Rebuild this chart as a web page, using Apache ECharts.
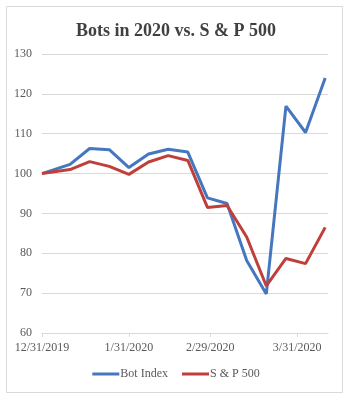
<!DOCTYPE html>
<html>
<head>
<meta charset="utf-8">
<script src="https://cdn.jsdelivr.net/npm/echarts@6/dist/echarts.min.js"></script>
<style>
  html, body { margin: 0; padding: 0; background: #fff; }
  #chart { width: 352px; height: 400px; }
</style>
</head>
<body>
<div id="chart"></div>
<script>
// weekly readings (first point is the 12/31 base)
const dates = ['2019-12-31', '2020-01-10', '2020-01-17', '2020-01-24', '2020-01-31',
  '2020-02-07', '2020-02-14', '2020-02-21', '2020-02-28', '2020-03-06',
  '2020-03-13', '2020-03-20', '2020-03-27', '2020-04-03', '2020-04-10']
const botIndex = [100, 102.3, 106.3, 106, 101.5, 104.9, 106.1, 105.4, 93.9, 92.5, 78.2, 69.8, 116.9, 110.3, 124]
const sp500 = [100, 101, 103, 101.8, 99.8, 102.9, 104.5, 103.3, 91.5, 92, 84.1, 71.8, 78.7, 77.4, 86.5]
const tickDates = ['2019-12-31', '2020-01-31', '2020-02-29', '2020-03-31']

const serif = 'Liberation Serif'
const chart = echarts.init(document.getElementById('chart'))

// dates as UTC ms on a plain value axis, so the month-end ticks can be set exactly
const ts = d => Date.parse(d)

function pairs(values) {
  return dates.map((d, i) => [ts(d), values[i]])
}

function fmtDate(v) {
  const d = new Date(v)
  return (d.getUTCMonth() + 1) + '/' + d.getUTCDate() + '/' + d.getUTCFullYear()
}

chart.setOption({
  animation: false,
  graphic: [{
    type: 'rect',
    shape: { x: 6.5, y: 6.5, width: 336, height: 386 },
    style: { fill: 'none', stroke: '#d9d9d9', lineWidth: 1 }
  }],
  title: {
    text: 'Bots in 2020 vs. S & P 500',
    left: 'center',
    top: 17,
    textStyle: { fontFamily: serif, fontSize: 18, fontWeight: 'bold', color: '#404040' }
  },
  grid: { left: 42, right: 24, top: 54, bottom: 67, containLabel: false },
  xAxis: {
    type: 'value',
    min: ts('2019-12-31'),
    max: ts('2020-04-11'),
    axisLine: { lineStyle: { color: '#d9d9d9' } },
    axisTick: { show: true, length: 4, customValues: tickDates.map(ts), lineStyle: { color: '#d9d9d9' } },
    axisLabel: {
      customValues: tickDates.map(ts),
      formatter: fmtDate,
      fontFamily: serif,
      fontSize: 12,
      color: '#595959',
      margin: 9
    },
    splitLine: { show: false }
  },
  yAxis: {
    type: 'value',
    min: 60,
    max: 130,
    interval: 10,
    axisLine: { show: false },
    axisTick: { show: false },
    axisLabel: { fontFamily: serif, fontSize: 12, color: '#595959', margin: 10 },
    splitLine: { lineStyle: { color: '#d9d9d9', width: 1 } }
  },
  legend: {
    bottom: 15,
    left: 'center',
    icon: 'rect',
    itemWidth: 27,
    itemHeight: 3,
    itemGap: 14,
    textStyle: { fontFamily: serif, fontSize: 12, color: '#595959', padding: [0, 0, 0, -4] },
    data: ['Bot Index', 'S & P 500']
  },
  series: [
    {
      name: 'Bot Index',
      type: 'line',
      symbol: 'none',
      data: pairs(botIndex),
      itemStyle: { color: '#4577bf' },
      lineStyle: { width: 3, color: '#4577bf' }
    },
    {
      name: 'S & P 500',
      type: 'line',
      symbol: 'none',
      data: pairs(sp500),
      itemStyle: { color: '#bf3f3a' },
      lineStyle: { width: 3, color: '#bf3f3a' }
    }
  ]
})
</script>
</body>
</html>
